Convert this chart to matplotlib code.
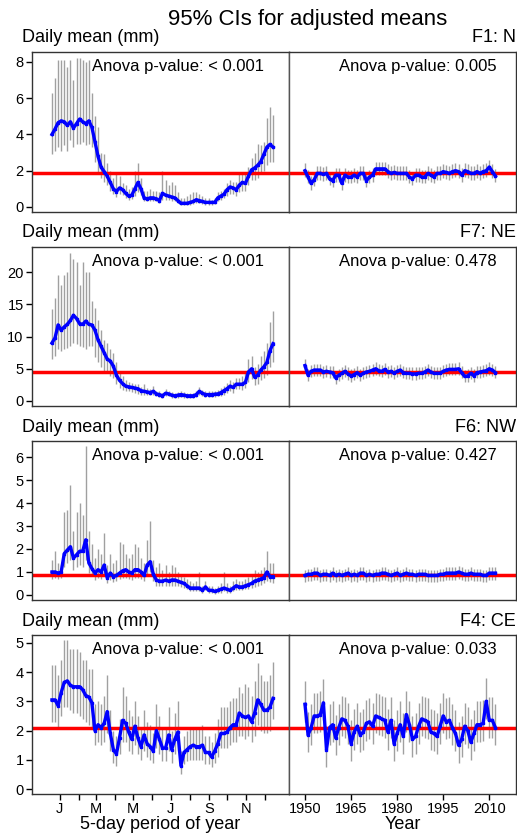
import numpy as np
import matplotlib.pyplot as plt

plt.rcParams['font.family'] = ['Liberation Sans', 'DejaVu Sans']

W, H = 517, 836

# 5-day periods (pentads) and years
pentads = np.arange(1, 74)
years = np.arange(1950, 2013)

# ---- F1: N ----
n_pent = [4.0, 4.3, 4.65, 4.75, 4.7, 4.5, 4.7, 4.35, 4.6, 4.85,
          4.7, 4.6, 4.75, 4.4, 3.6, 2.8, 2.2, 1.95, 1.7, 1.35,
          1.0, 0.85, 1.05, 0.95, 0.75, 0.6, 0.65, 1.0, 1.35, 1.0,
          0.5, 0.45, 0.5, 0.5, 0.45, 0.35, 0.75, 0.65, 0.6, 0.55,
          0.5, 0.35, 0.2, 0.2, 0.2, 0.25, 0.3, 0.4, 0.35, 0.3,
          0.25, 0.25, 0.25, 0.25, 0.5, 0.6, 0.7, 0.95, 1.1, 1.05,
          0.95, 1.2, 1.35, 1.3, 1.7, 2.05, 2.15, 2.3, 2.5, 2.9,
          3.3, 3.45, 3.3]
n_pent_hi = [6.3, 7.1, 8.1, 8.1, 8.1, 7.7, 8.1, 7.0, 8.2, 8.2,
             8.1, 8.0, 8.1, 6.3, 5.0, 4.4, 3.0, 2.9, 2.4, 2.0,
             1.6, 1.8, 1.7, 1.3, 1.2, 1.0, 1.1, 2.0, 2.4, 1.6,
             0.9, 0.9, 1.0, 0.9, 0.9, 0.8, 2.0, 1.5, 1.2, 1.4,
             1.2, 0.8, 0.5, 0.5, 0.6, 0.7, 0.8, 0.8, 0.7, 0.6,
             0.5, 0.5, 0.4, 0.5, 0.8, 0.9, 1.0, 1.3, 1.5, 1.4,
             1.4, 1.8, 1.8, 1.8, 2.2, 2.7, 3.0, 3.5, 3.4, 3.6,
             4.9, 5.5, 5.1]
n_pent_lo = [2.9, 3.1, 3.3, 3.1, 3.4, 3.1, 3.7, 3.3, 3.5, 3.5,
             3.6, 3.4, 3.5, 3.3, 2.5, 1.9, 1.6, 1.4, 1.2, 0.9,
             0.7, 0.55, 0.7, 0.65, 0.5, 0.4, 0.45, 0.6, 0.85, 0.65,
             0.3, 0.3, 0.3, 0.3, 0.3, 0.2, 0.4, 0.4, 0.4, 0.3,
             0.3, 0.2, 0.1, 0.1, 0.1, 0.1, 0.15, 0.2, 0.2, 0.15,
             0.1, 0.1, 0.1, 0.15, 0.3, 0.4, 0.5, 0.6, 0.7, 0.7,
             0.6, 0.8, 0.9, 0.9, 1.2, 1.5, 1.5, 1.6, 1.8, 2.0,
             2.3, 2.5, 2.5]
n_year = [2.0, 1.65, 1.3, 1.5, 1.85, 1.85, 1.8, 1.85, 1.55, 1.45,
          1.75, 1.75, 1.3, 1.75, 1.65, 1.65, 1.75, 1.65, 1.85, 1.85,
          1.45, 1.65, 1.75, 2.1, 2.1, 2.1, 2.1, 1.95, 1.85, 1.9,
          1.85, 1.85, 1.85, 1.85, 1.65, 1.55, 1.75, 1.75, 1.65, 1.65,
          1.85, 1.75, 1.65, 1.85, 1.85, 1.95, 1.9, 1.85, 1.95, 2.0,
          1.95, 1.75, 2.0, 1.95, 1.85, 1.85, 1.95, 1.85, 1.95, 2.0,
          2.2, 1.95, 1.7]

# ---- F7: NE ----
ne_pent = [9.0, 9.8, 11.8, 11.0, 11.5, 11.9, 12.5, 13.3, 12.8, 12.0,
           11.9, 12.4, 11.9, 11.8, 11.0, 9.5, 8.5, 7.5, 6.5, 6.2,
           5.4, 4.0, 3.2, 2.7, 2.3, 2.2, 2.1, 2.0, 1.9, 1.6,
           1.5, 1.4, 1.3, 1.5, 1.1, 1.0, 0.8, 1.2, 1.1, 0.9,
           0.8, 0.9, 1.0, 0.9, 0.8, 0.8, 0.8, 1.0, 1.5, 1.2,
           1.0, 1.0, 1.0, 1.05, 1.1, 1.3, 1.6, 1.9, 2.3, 2.1,
           2.6, 2.6, 2.6, 2.9, 4.5, 5.0, 3.7, 4.0, 4.8, 5.3,
           6.0, 7.8, 8.9]
ne_pent_hi = [14.3, 16, 19.5, 18, 19.5, 20, 23, 22, 21.5, 18,
              21.5, 20, 20, 15.5, 14.5, 12.5, 11, 9.5, 9, 8,
              7.5, 6.0, 4.5, 3.8, 3.3, 3.0, 2.8, 2.7, 2.6, 2.2,
              2.6, 2.0, 1.8, 2.3, 1.6, 1.5, 1.3, 1.8, 1.6, 1.4,
              1.3, 1.4, 1.5, 1.4, 1.3, 1.3, 1.3, 1.6, 2.2, 1.7,
              1.5, 1.5, 1.5, 1.6, 1.7, 2.0, 2.4, 2.8, 3.3, 3.0,
              3.6, 3.6, 3.8, 4.3, 6.5, 7.0, 5.3, 5.7, 7.0, 7.8,
              9.0, 12.3, 14.0]
ne_pent_lo = [6.5, 7.0, 8.0, 7.8, 8.0, 8.2, 8.5, 9.0, 8.8, 8.5,
              8.4, 8.0, 8.6, 8.5, 6.8, 6.0, 5.3, 4.7, 4.4, 3.8,
              3.5, 2.6, 2.0, 1.7, 1.5, 1.5, 1.4, 1.3, 1.1, 1.0,
              1.0, 0.9, 0.9, 1.0, 0.7, 0.6, 0.5, 0.7, 0.7, 0.5,
              0.5, 0.5, 0.6, 0.5, 0.5, 0.5, 0.5, 0.6, 0.9, 0.7,
              0.6, 0.6, 0.6, 0.6, 0.7, 0.8, 1.0, 1.2, 1.5, 1.3,
              1.8, 1.8, 1.7, 2.0, 3.0, 3.4, 2.5, 2.7, 3.2, 3.6,
              4.0, 5.2, 6.0]
ne_year = [5.5, 4.0, 4.6, 4.8, 4.8, 4.8, 4.5, 4.6, 4.5, 4.4,
           3.6, 4.0, 4.3, 4.6, 4.2, 3.9, 4.1, 4.4, 4.0, 4.3,
           4.5, 4.6, 4.8, 5.0, 4.7, 4.6, 4.9, 4.5, 4.6, 4.3,
           4.6, 4.8, 4.4, 4.3, 4.3, 4.2, 4.2, 4.3, 4.3, 4.5,
           4.8, 4.5, 4.3, 4.3, 4.3, 4.6, 4.8, 4.9, 4.9, 4.9,
           5.0, 4.4, 3.8, 3.9, 4.3, 3.9, 4.4, 4.5, 4.6, 4.7,
           5.0, 4.8, 4.4]

# ---- F6: NW ----
nw_pent = [1.0, 1.0, 0.95, 1.0, 1.8, 1.95, 2.1, 1.6, 1.75, 1.9,
           1.9, 2.4, 1.4, 1.15, 0.95, 1.1, 1.0, 1.3, 0.75, 0.95,
           0.8, 0.85, 0.95, 1.05, 1.1, 1.0, 0.95, 1.1, 1.1, 1.0,
           0.85, 1.3, 1.45, 0.9, 0.65, 0.6, 0.6, 0.65, 0.6, 0.65,
           0.65, 0.6, 0.55, 0.5, 0.4, 0.3, 0.3, 0.3, 0.3, 0.2,
           0.35, 0.2, 0.2, 0.15, 0.2, 0.25, 0.3, 0.25, 0.2, 0.3,
           0.4, 0.35, 0.35, 0.4, 0.45, 0.5, 0.6, 0.65, 0.7, 0.75,
           1.0, 0.8, 0.8]
nw_pent_hi = [1.5, 1.9, 1.4, 1.3, 3.6, 3.7, 4.8, 2.8, 3.6, 4.0,
              3.5, 6.5, 2.8, 2.2, 1.6, 2.0, 1.8, 2.7, 1.3, 1.8,
              1.4, 1.5, 2.3, 2.2, 1.8, 1.6, 1.8, 2.2, 2.1, 1.6,
              1.4, 2.4, 3.2, 1.5, 1.2, 1.4, 1.1, 1.3, 1.0, 1.3,
              1.2, 1.0, 0.9, 0.8, 0.7, 0.6, 0.5, 0.6, 1.0, 0.4,
              0.6, 0.4, 0.4, 0.3, 0.4, 0.5, 1.0, 0.5, 0.4, 0.6,
              0.7, 0.6, 0.6, 0.7, 0.8, 0.9, 1.1, 1.0, 1.1, 1.2,
              1.9, 1.4, 1.4]
nw_pent_lo = [0.7, 0.75, 0.7, 0.75, 1.2, 1.4, 1.5, 1.1, 1.2, 1.3,
              1.2, 1.5, 0.95, 0.85, 0.65, 0.75, 0.7, 0.9, 0.5, 0.65,
              0.55, 0.6, 0.7, 0.75, 0.75, 0.7, 0.65, 0.75, 0.75, 0.7,
              0.6, 0.9, 1.0, 0.6, 0.4, 0.4, 0.4, 0.4, 0.4, 0.4,
              0.4, 0.4, 0.35, 0.3, 0.25, 0.15, 0.15, 0.15, 0.15, 0.1,
              0.2, 0.1, 0.1, 0.05, 0.1, 0.1, 0.15, 0.1, 0.1, 0.15,
              0.2, 0.2, 0.2, 0.25, 0.25, 0.3, 0.35, 0.4, 0.45, 0.5,
              0.6, 0.55, 0.5]
nw_year = [0.85, 0.9, 0.9, 0.95, 0.95, 0.85, 0.9, 0.9, 0.85, 0.95,
           0.85, 0.9, 0.85, 0.9, 0.95, 0.85, 0.9, 0.85, 0.95, 0.95,
           0.85, 0.9, 0.85, 0.9, 0.9, 0.95, 0.95, 0.9, 0.85, 0.9,
           0.95, 0.85, 0.9, 0.95, 0.9, 0.9, 0.85, 0.9, 0.9, 0.9,
           0.85, 0.85, 0.85, 0.85, 0.9, 0.9, 0.95, 0.95, 0.95, 0.95,
           1.0, 0.95, 0.9, 0.9, 0.95, 0.9, 0.9, 0.9, 0.85, 0.85,
           0.95, 0.95, 0.95]

# ---- F4: CE ----
ce_pent = [3.05, 3.05, 2.85, 3.3, 3.65, 3.7, 3.55, 3.5, 3.5, 3.5,
           3.4, 3.2, 3.15, 2.95, 2.0, 2.2, 2.1, 2.25, 2.65, 1.9,
           1.35, 1.2, 1.75, 2.35, 2.25, 1.95, 1.7, 2.15, 1.75, 1.45,
           1.85, 1.55, 1.45, 1.3, 2.0, 1.7, 1.4, 1.4, 1.85, 1.35,
           1.7, 1.95, 0.8, 1.25, 1.35, 1.45, 1.5, 1.45, 1.45, 1.5,
           1.25, 1.25, 1.1, 1.3, 1.55, 1.9, 1.9, 1.95, 2.1, 2.2,
           2.2, 2.6, 2.5, 2.45, 2.5, 2.3, 2.6, 3.05, 2.9, 2.7,
           2.7, 2.8, 3.1]
ce_pent_hi = [4.25, 4.25, 3.9, 4.4, 5.1, 5.1, 4.8, 4.8, 4.8, 4.7,
              4.4, 4.4, 4.1, 4.1, 2.9, 3.0, 2.9, 3.2, 3.9, 2.7,
              2.0, 1.8, 2.4, 3.5, 3.2, 2.7, 2.5, 3.0, 2.5, 2.1,
              2.7, 2.3, 2.2, 1.9, 2.9, 2.5, 2.1, 2.1, 2.8, 2.0,
              2.6, 3.0, 1.3, 1.8, 2.0, 2.1, 2.1, 2.1, 2.1, 2.2,
              1.8, 1.8, 1.6, 1.9, 2.4, 2.8, 2.8, 2.8, 3.0, 3.1,
              3.1, 3.5, 3.3, 3.6, 3.5, 3.2, 3.7, 4.3, 3.9, 3.7,
              3.7, 3.9, 4.35]
ce_pent_lo = [2.3, 2.3, 2.1, 2.5, 2.8, 2.8, 2.7, 2.6, 2.6, 2.5,
              2.4, 2.3, 2.2, 2.1, 1.5, 1.6, 1.5, 1.6, 1.9, 1.3,
              0.9, 0.8, 1.2, 1.6, 1.6, 1.3, 1.2, 1.5, 1.2, 1.0,
              1.3, 1.1, 1.0, 0.9, 1.4, 1.2, 0.95, 0.95, 1.3, 0.9,
              1.2, 1.3, 0.5, 0.85, 0.95, 1.0, 1.0, 1.0, 1.0, 1.0,
              0.85, 0.85, 0.75, 0.9, 1.1, 1.4, 1.4, 1.4, 1.5, 1.6,
              1.6, 1.8, 1.8, 1.7, 1.8, 1.6, 1.8, 2.2, 2.0, 1.9,
              1.9, 2.0, 2.4]
ce_year = [2.9, 1.85, 2.1, 2.5, 2.5, 2.55, 2.95, 1.35, 2.1, 2.2,
           1.75, 2.1, 2.4, 2.35, 2.15, 1.55, 1.95, 2.15, 1.85, 1.95,
           2.25, 2.3, 2.15, 2.5, 2.45, 2.4, 2.35, 1.95, 2.35, 1.55,
           1.9, 2.2, 1.8, 2.55, 2.2, 1.7, 1.8, 2.15, 2.4, 2.35,
           2.3, 1.95, 1.9, 1.8, 2.15, 2.5, 2.3, 2.35, 2.1, 1.9,
           1.5, 1.7, 2.15, 2.0, 1.6, 1.9, 2.2, 2.2, 2.25, 3.0,
           2.35, 2.35, 2.1]

# row settings: name, overall mean, y limits, y ticks, p-values, yearly CI (up, down)
names = ['F1: N', 'F7: NE', 'F6: NW', 'F4: CE']
grand_mean = [1.85, 4.55, 0.85, 2.1]
ylims = [(-0.28, 8.55), (-0.78, 23.9), (-0.22, 6.7), (-0.17, 5.27)]
yticks = [[0, 2, 4, 6, 8], [0, 5, 10, 15, 20], [0, 1, 2, 3, 4, 5, 6], [0, 1, 2, 3, 4, 5]]
p_pent = ['< 0.001', '< 0.001', '< 0.001', '< 0.001']
p_year = ['0.005', '0.478', '0.427', '0.033']
year_ci = [(0.4, 0.35), (1.0, 0.9), (0.25, 0.3), (0.8, 0.6)]

pent_means = [n_pent, ne_pent, nw_pent, ce_pent]
pent_his = [n_pent_hi, ne_pent_hi, nw_pent_hi, ce_pent_hi]
pent_los = [n_pent_lo, ne_pent_lo, nw_pent_lo, ce_pent_lo]
year_means = [n_year, ne_year, nw_year, ce_year]

month_labels = ['J', '', 'M', '', 'M', '', 'J', '', 'S', '', 'N', '']
month_start = np.array([0, 31, 59, 90, 120, 151, 181, 212, 243, 273, 304, 334])
month_ticks = (month_start + 15 + 2.5) / 5

row_px = [(52, 212), (247, 406), (441, 600), (635, 794)]
x0, xm, x1 = 32, 289, 516

fig = plt.figure(figsize=(W / 100, H / 100), dpi=100)
fig.text(308 / W, 1 - 20 / H, '95% CIs for adjusted means', ha='center', va='center', fontsize=16)

frame_col = '#333333'
bar_col = '#a0a0a0'


def style(ax):
    for s in ax.spines.values():
        s.set_color(frame_col)
        s.set_linewidth(1.0)
    ax.tick_params(colors='black', labelsize=10.5, length=4, width=1, direction='out', pad=2)


for r in range(4):
    top, bot = row_px[r]
    b = 1 - bot / H
    h = (bot - top) / H
    axl = fig.add_axes([x0 / W, b, (xm - x0) / W, h])
    axr = fig.add_axes([xm / W, b, (x1 - xm) / W, h])

    # left: 5-day periods
    axl.vlines(pentads, pent_los[r], pent_his[r], color=bar_col, lw=1.0, zorder=1)
    axl.axhline(grand_mean[r], color='red', lw=2.5, zorder=2)
    axl.plot(pentads, pent_means[r], color='blue', lw=2.4, marker='s', ms=2, zorder=3)
    axl.set_xlim(-5.5, 78.2)
    axl.set_ylim(*ylims[r])
    axl.set_yticks(yticks[r])
    axl.text(0.232, 0.91, 'Anova p-value: ' + p_pent[r], transform=axl.transAxes,
             fontsize=12, ha='left', va='center')

    # right: years
    up, dn = year_ci[r]
    ym = np.array(year_means[r])
    axr.vlines(years, ym - dn, ym + up, color=bar_col, lw=1.0, zorder=1)
    axr.axhline(grand_mean[r], color='red', lw=2.5, zorder=2)
    axr.plot(years, ym, color='blue', lw=2.4, marker='s', ms=2, zorder=3)
    axr.set_xlim(1944.8, 2018.7)
    axr.set_ylim(*ylims[r])
    axr.set_yticks([])
    axr.text(0.915, 0.91, 'Anova p-value: ' + p_year[r], transform=axr.transAxes,
             fontsize=12, ha='right', va='center')

    style(axl)
    style(axr)
    axr.spines['left'].set_color('#555555')

    if r == 3:
        axl.set_xticks(month_ticks)
        axl.set_xticklabels(month_labels)
        axr.set_xticks([1950, 1965, 1980, 1995, 2010])
        axl.set_xlabel('5-day period of year', fontsize=13, labelpad=0)
        axr.set_xlabel('Year', fontsize=13, labelpad=0)
    else:
        axl.set_xticks([])
        axr.set_xticks([])

    fig.text(22 / W, 1 - (top - 14) / H, 'Daily mean (mm)', ha='left', va='center', fontsize=13)
    fig.text(x1 / W, 1 - (top - 14) / H, names[r], ha='right', va='center', fontsize=13)

fig.savefig('out.png', dpi=100)
